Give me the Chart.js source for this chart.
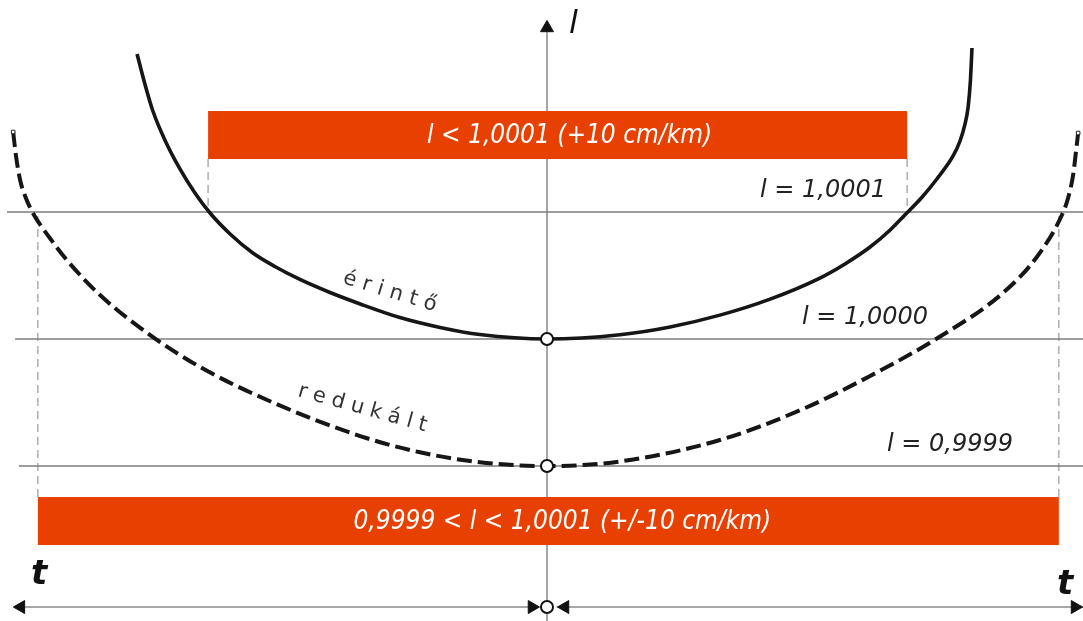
<!DOCTYPE html>
<html>
<head>
<meta charset="utf-8">
<script src="https://cdn.jsdelivr.net/npm/chart.js@4/dist/chart.umd.min.js"></script>
<style>
html, body { margin: 0; padding: 0; background: #fff; }
#wrap { width: 1083px; height: 621px; position: relative; }
</style>
</head>
<body>
<div id="wrap"><canvas id="c"></canvas></div>
<script>
// t = distance from the central meridian (km), l = scale deviation (cm/km, 10 cm/km = 0.0001)
var erintoT = [-106.2,-104.1,-102.1,-99.0,-95.1,-91.2,-87.3,-82.1,-76.2,-70.5,-64.0,-56.2,-48.4,-38.1,-27.7,-17.4,0,18.9,31.9,44.8,57.8,70.7,77.2,83.7,88.9,92.7,97.2,101.0,105.2,107.0,108.3,109.1,109.7,110.1];
var erintoL = [22.44,20.0,17.95,15.67,13.39,11.50,9.92,8.27,6.77,5.71,4.69,3.66,2.76,1.69,0.91,0.35,0,0.34,0.95,1.88,3.14,4.80,5.91,7.24,8.58,9.76,11.18,12.60,14.41,15.59,16.93,18.27,20.39,22.91];
var reduT = [-138.3,-137.6,-136.5,-135.0,-133.2,-128.8,-124.4,-115.8,-102.8,-89.9,-72.5,-48.4,-32.9,-17.4,0,18.9,44.8,66.3,83.7,101.0,118.1,126.9,133.4,135.0,136.3,137.0,137.6];
var reduL = [16.30,14.49,12.52,11.10,9.92,7.95,6.22,3.46,0.31,-2.20,-4.80,-7.64,-8.92,-9.70,-10,-9.64,-7.95,-5.51,-2.91,0.04,3.62,6.46,9.76,11.10,12.91,14.65,16.22];

var levels = [10, 0, -10];
var levelStart = [-139.9, -137.8, -136.8];
var levelLabels = ['l = 1,0001', 'l = 1,0000', 'l = 0,9999'];

var zoneFrom = [-87.8, -131.9];
var zoneTo = [93.3, 132.6];
var zoneLabels = ['l < 1,0001 (+10 cm/km)', '0,9999 < l < 1,0001 (+/-10 cm/km)'];

var T_MIN = -141.71, T_MAX = 138.86;
var L_MIN = -22.20, L_MAX = 26.69;
var T_AXIS = -21.10;

function pts(xs, ys) {
    return xs.map(function (x, i) { return {x: x, y: ys[i]}; });
}

var datasets = [];

levels.forEach(function (lv, i) {
    datasets.push({
        data: [{x: levelStart[i], y: lv}, {x: T_MAX, y: lv}],
        showLine: true, borderColor: '#7d7d7d', borderWidth: 1.4, pointRadius: 0, order: 6
    });
});

// l axis and t axis
datasets.push({
    data: [{x: 0, y: L_MIN}, {x: 0, y: 24.2}],
    showLine: true, borderColor: '#808080', borderWidth: 1.4, pointRadius: 0, order: 6
});
datasets.push({
    data: [{x: -137.8, y: T_AXIS}, {x: -2.5, y: T_AXIS}],
    showLine: true, borderColor: '#8a8a8a', borderWidth: 1.6, pointRadius: 0, order: 6
});
datasets.push({
    data: [{x: 2.5, y: T_AXIS}, {x: T_MAX, y: T_AXIS}],
    showLine: true, borderColor: '#8a8a8a', borderWidth: 1.6, pointRadius: 0, order: 6
});

datasets.push({
    label: 'érintő',
    data: pts(erintoT, erintoL),
    showLine: true, borderColor: '#161616', borderWidth: 3.6, pointRadius: 0,
    cubicInterpolationMode: 'monotone', order: 3
});
datasets.push({
    label: 'redukált',
    data: pts(reduT, reduL),
    showLine: true, borderColor: '#161616', borderWidth: 4, borderDash: [15, 6],
    pointRadius: 0, cubicInterpolationMode: 'monotone', order: 3
});

// tiny end squares on the dashed curve
datasets.push({
    data: [{x: reduT[0], y: reduL[0]}, {x: reduT[reduT.length - 1], y: reduL[reduL.length - 1]}],
    showLine: false, pointStyle: 'rect', pointRadius: 2.5, pointBackgroundColor: '#fff',
    pointBorderColor: '#222', pointBorderWidth: 1, order: 2
});

// arrow heads
datasets.push({
    data: [{x: 0, y: 24.49}, {x: -136.3, y: T_AXIS}, {x: -3.89, y: T_AXIS}, {x: 4.66, y: T_AXIS}, {x: 136.8, y: T_AXIS}],
    showLine: false, pointStyle: 'triangle', pointRadius: 7.5,
    pointRotation: [0, -90, 90, -90, 90],
    pointBackgroundColor: '#111', pointBorderColor: '#111', pointBorderWidth: 1, order: 1
});

// vertex circles
datasets.push({
    data: [{x: 0, y: 0}, {x: 0, y: -10}, {x: 0, y: T_AXIS}],
    showLine: false, pointRadius: 6, pointBackgroundColor: '#fff',
    pointBorderColor: '#111', pointBorderWidth: 2, order: 0
});

function spaced(ctx, text, x, y, angle, gap) {
    ctx.save();
    ctx.translate(x, y);
    ctx.rotate(angle * Math.PI / 180);
    var cx = 0;
    for (var i = 0; i < text.length; i++) {
        ctx.fillText(text[i], cx, 0);
        cx += ctx.measureText(text[i]).width + gap;
    }
    ctx.restore();
}

var diagram = {
    id: 'diagram',
    beforeDatasetsDraw: function (chart) {
        var ctx = chart.ctx, xs = chart.scales.x, ys = chart.scales.y;
        var bandBottom = [14.17, -12.44];
        ctx.save();
        ctx.strokeStyle = '#9a9a9a';
        ctx.lineWidth = 1.2;
        ctx.setLineDash([8, 5]);
        zoneFrom.forEach(function (f, i) {
            [f, zoneTo[i]].forEach(function (t) {
                var px = xs.getPixelForValue(t);
                ctx.beginPath();
                ctx.moveTo(px, ys.getPixelForValue(bandBottom[i]));
                ctx.lineTo(px, ys.getPixelForValue(10));
                ctx.stroke();
            });
        });
        ctx.restore();
    },
    afterDatasetsDraw: function (chart) {
        var ctx = chart.ctx, xs = chart.scales.x, ys = chart.scales.y;
        var bands = [[17.95, 14.17], [-12.44, -16.22]];
        var textShift = [12, 14];
        ctx.save();
        zoneFrom.forEach(function (f, i) {
            var x0 = xs.getPixelForValue(f), x1 = xs.getPixelForValue(zoneTo[i]);
            var y0 = ys.getPixelForValue(bands[i][0]), y1 = ys.getPixelForValue(bands[i][1]);
            ctx.fillStyle = '#e84000';
            ctx.fillRect(x0, y0, x1 - x0, y1 - y0);
            ctx.fillStyle = '#ffffff';
            ctx.font = "italic 26px 'DejaVu Sans Condensed', 'DejaVu Sans', sans-serif";
            ctx.textAlign = 'center';
            ctx.textBaseline = 'middle';
            ctx.fillText(zoneLabels[i], (x0 + x1) / 2 + textShift[i], (y0 + y1) / 2 + 1);
        });

        ctx.fillStyle = '#222';
        ctx.textAlign = 'left';
        ctx.textBaseline = 'alphabetic';
        ctx.font = "italic 24px 'DejaVu Sans', sans-serif";
        var labelX = [760, 802, 887];
        levels.forEach(function (lv, i) {
            ctx.fillText(levelLabels[i], labelX[i], ys.getPixelForValue(lv) - 15);
        });

        ctx.font = "21px 'DejaVu Sans', sans-serif";
        ctx.fillStyle = '#333';
        spaced(ctx, 'érintő', 342, 283, 17, 7);
        spaced(ctx, 'redukált', 297, 396, 15.5, 6.5);

        ctx.fillStyle = '#111';
        ctx.font = "italic 32px 'DejaVu Sans', sans-serif";
        ctx.fillText('l', 569, 33);
        ctx.font = "italic bold 34px 'DejaVu Sans', sans-serif";
        ctx.fillText('t', 31, 584);
        ctx.fillText('t', 1057, 594);
        ctx.restore();
    }
};

new Chart(document.getElementById('c').getContext('2d'), {
    type: 'scatter',
    data: {datasets: datasets},
    options: {
        responsive: true,
        maintainAspectRatio: false,
        animation: false,
        events: [],
        layout: {padding: 0, autoPadding: false},
        plugins: {legend: {display: false}, tooltip: {enabled: false}},
        scales: {
            x: {type: 'linear', min: T_MIN, max: T_MAX, display: false},
            y: {type: 'linear', min: L_MIN, max: L_MAX, display: false}
        }
    },
    plugins: [diagram]
});
</script>
</body>
</html>
